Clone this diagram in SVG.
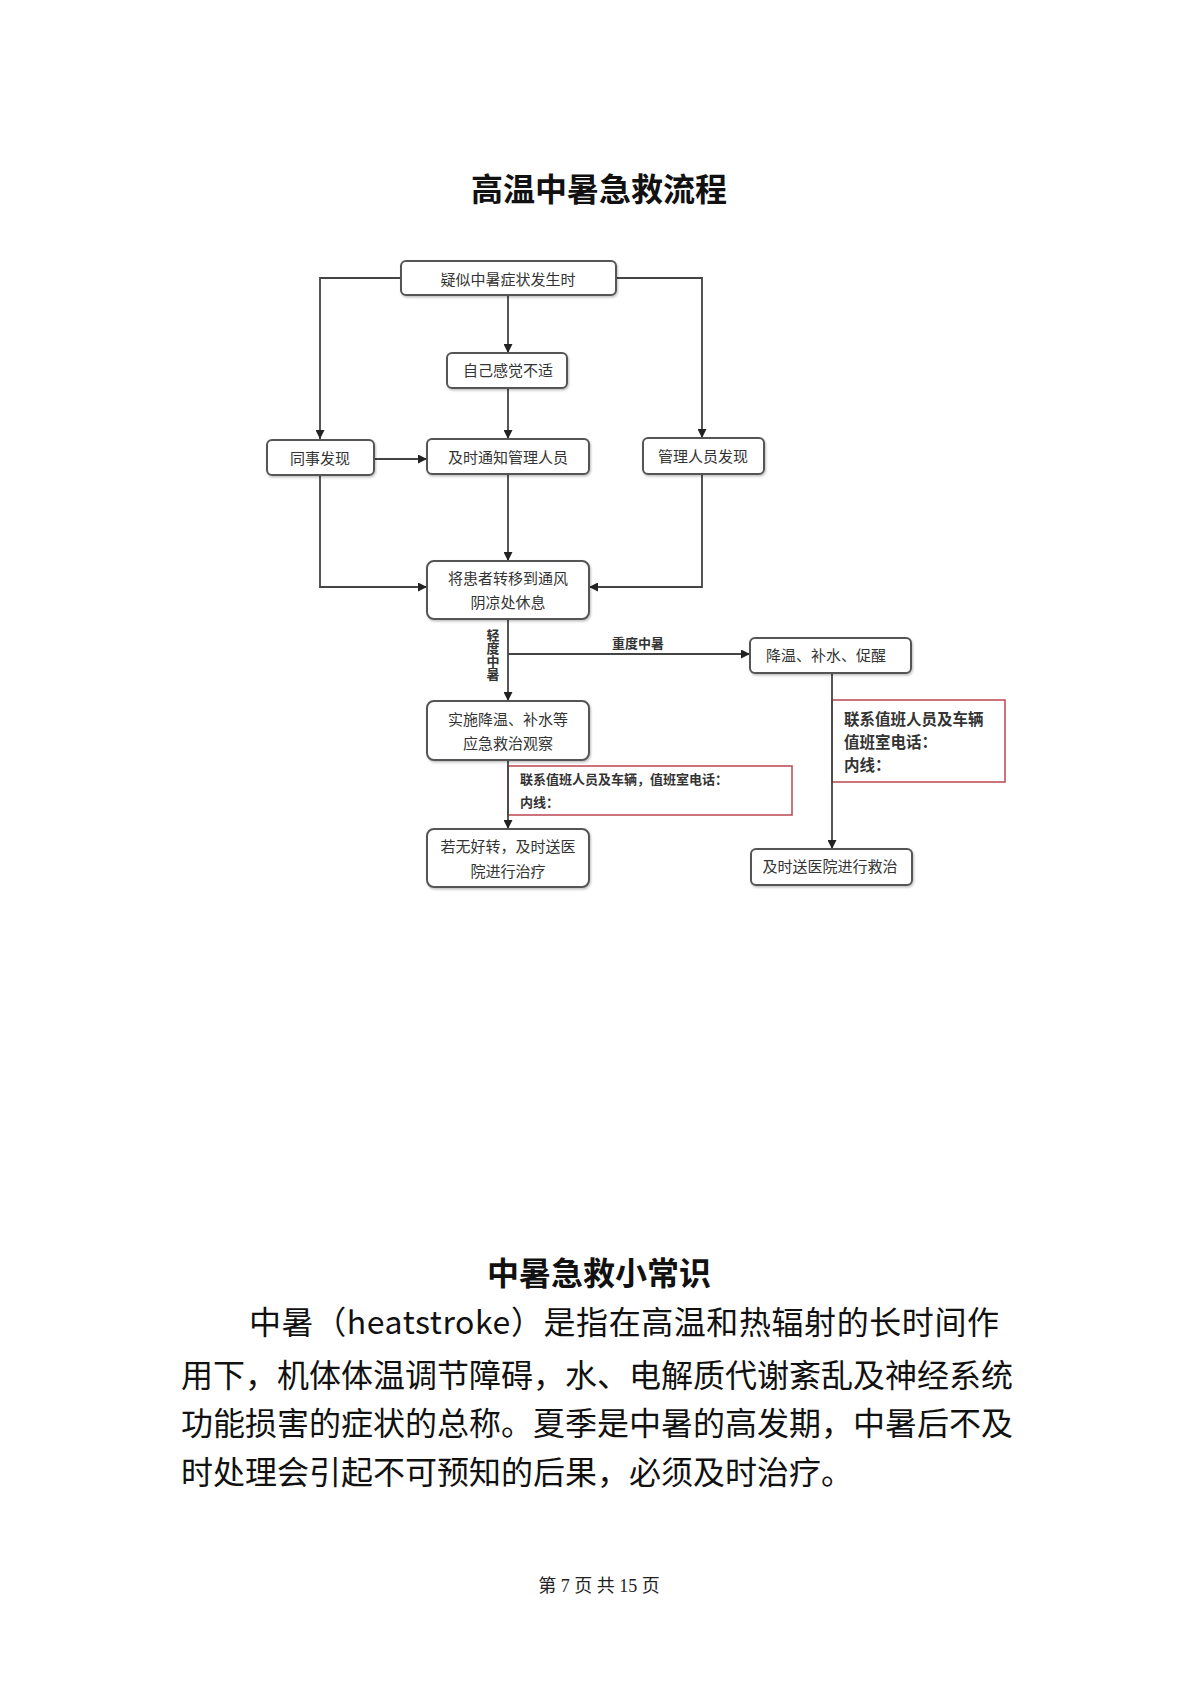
<svg xmlns="http://www.w3.org/2000/svg" width="1200" height="1698" viewBox="0 0 1200 1698">
<defs>
<style>
.box{fill:#fff;stroke:#555;stroke-width:2}
.red{fill:#fff;stroke:#c0505a;stroke-width:1.6}
.bt{font-family:"Noto Sans CJK SC","Liberation Sans",sans-serif;font-size:15px;fill:#333;text-anchor:middle}
.rt{font-family:"Noto Sans CJK SC","Liberation Sans",sans-serif;fill:#333;font-weight:700}
.lbl{font-family:"Noto Sans CJK SC","Liberation Sans",sans-serif;font-size:13px;fill:#333;font-weight:700;text-anchor:middle}
.con{fill:none;stroke:#444;stroke-width:1.8}
.h{font-family:"Noto Sans CJK SC",sans-serif;font-weight:700;font-size:32px;fill:#111;text-anchor:middle}
.p{font-family:"Noto Sans CJK SC","DejaVu Sans",sans-serif;font-size:32px;fill:#111}
</style>
<marker id="ar" viewBox="0 0 10 10" refX="10" refY="5" markerWidth="9" markerHeight="9" markerUnits="userSpaceOnUse" orient="auto">
<path d="M0,0 L10,5 L0,10 z" fill="#222"/>
</marker>
<filter id="sh" x="-10%" y="-10%" width="120%" height="130%">
<feDropShadow dx="1" dy="1.5" stdDeviation="1" flood-color="#000" flood-opacity="0.25"/>
</filter>
</defs>
<rect width="1200" height="1698" fill="#fff"/>

<text class="h" x="599" y="201">高温中暑急救流程</text>

<g id="redI"><rect class="red" x="508" y="766" width="284" height="49"/>
<text class="rt" font-size="13" x="520" y="784">联系值班人员及车辆，值班室电话：</text>
<text class="rt" font-size="13" x="520" y="807">内线：</text></g>
<g id="redJ"><rect class="red" x="832" y="700" width="173" height="82"/>
<text class="rt" font-size="15.5" x="844" y="725">联系值班人员及车辆</text>
<text class="rt" font-size="15.5" x="844" y="748">值班室电话：</text>
<text class="rt" font-size="15.5" x="844" y="771">内线：</text></g>

<g id="connectors">
<path class="con" d="M401,278 H320 V439" marker-end="url(#ar)"/>
<path class="con" d="M616,278 H702 V438" marker-end="url(#ar)"/>
<path class="con" d="M508,295 V353" marker-end="url(#ar)"/>
<path class="con" d="M508,388 V439" marker-end="url(#ar)"/>
<path class="con" d="M374,459 H427" marker-end="url(#ar)"/>
<path class="con" d="M320,475 V587 H427" marker-end="url(#ar)"/>
<path class="con" d="M508,474 V561" marker-end="url(#ar)"/>
<path class="con" d="M702,474 V587 H589" marker-end="url(#ar)"/>
<path class="con" d="M508,619 V701" marker-end="url(#ar)"/>
<path class="con" d="M508,654 H750" marker-end="url(#ar)"/>
<path class="con" d="M508,760 V829" marker-end="url(#ar)"/>
<path class="con" d="M832,673 V849" marker-end="url(#ar)"/>
<text class="lbl" x="638" y="648">重度中暑</text>
<text class="lbl" font-size="12" x="493" y="629" writing-mode="tb" style="text-anchor:start">轻度中暑</text>
</g>

<g id="nA"><rect class="box" filter="url(#sh)" x="401" y="261" width="215" height="34" rx="5"/><text class="bt" x="508" y="285">疑似中暑症状发生时</text></g>
<g id="nB"><rect class="box" filter="url(#sh)" x="447" y="353" width="120" height="35" rx="5"/><text class="bt" x="508" y="376">自己感觉不适</text></g>
<g id="nC"><rect class="box" filter="url(#sh)" x="267" y="440" width="107" height="35" rx="5"/><text class="bt" x="320" y="464">同事发现</text></g>
<g id="nD"><rect class="box" filter="url(#sh)" x="427" y="439" width="162" height="35" rx="5"/><text class="bt" x="508" y="463">及时通知管理人员</text></g>
<g id="nE"><rect class="box" filter="url(#sh)" x="643" y="438" width="121" height="36" rx="5"/><text class="bt" x="703" y="462">管理人员发现</text></g>
<g id="nF"><rect class="box" filter="url(#sh)" x="427" y="561" width="162" height="58" rx="7"/><text class="bt" x="508" y="584">将患者转移到通风</text><text class="bt" x="508" y="608">阴凉处休息</text></g>
<g id="nG"><rect class="box" filter="url(#sh)" x="750" y="638" width="161" height="35" rx="5"/><text class="bt" x="826" y="661">降温、补水、促醒</text></g>
<g id="nH"><rect class="box" filter="url(#sh)" x="427" y="701" width="162" height="59" rx="7"/><text class="bt" x="508" y="725">实施降温、补水等</text><text class="bt" x="508" y="749">应急救治观察</text></g>
<g id="nK"><rect class="box" filter="url(#sh)" x="427" y="829" width="162" height="58" rx="7"/><text class="bt" x="508" y="852">若无好转，及时送医</text><text class="bt" x="508" y="877">院进行治疗</text></g>
<g id="nL"><rect class="box" filter="url(#sh)" x="751" y="849" width="161" height="36" rx="5"/><text class="bt" x="830" y="872">及时送医院进行救治</text></g>

<text class="h" x="599" y="1285">中暑急救小常识</text>
<text class="p" x="249" y="1334" textLength="750" lengthAdjust="spacing">中暑（heatstroke）是指在高温和热辐射的长时间作</text>
<text class="p" x="181" y="1387">用下，机体体温调节障碍，水、电解质代谢紊乱及神经系统</text>
<text class="p" x="181" y="1435">功能损害的症状的总称。夏季是中暑的高发期，中暑后不及</text>
<text class="p" x="181" y="1484">时处理会引起不可预知的后果，必须及时治疗。</text>

<text x="599" y="1592" font-family="Liberation Serif,Noto Sans CJK SC,serif" font-size="18" fill="#222" text-anchor="middle">第 7 页 共 15 页</text>
</svg>
